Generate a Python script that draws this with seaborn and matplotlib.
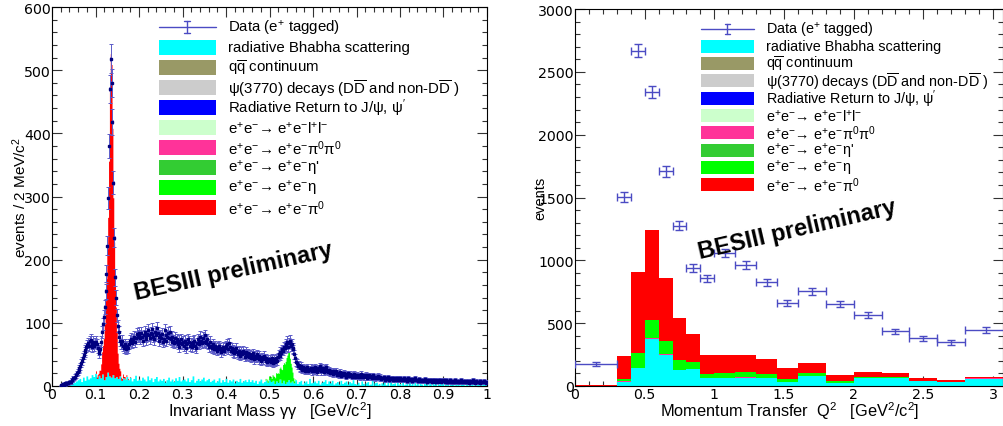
import numpy as np
import pandas as pd
import seaborn as sns
import matplotlib.pyplot as plt
from matplotlib.lines import Line2D
from matplotlib.patches import Rectangle
from matplotlib.ticker import MultipleLocator, FuncFormatter

sns.set_style("ticks")
plt.rcParams['font.family'] = ['Liberation Sans', 'DejaVu Sans']
plt.rcParams['mathtext.default'] = 'regular'
plt.rcParams['text.color'] = 'black'
plt.rcParams['axes.labelcolor'] = 'black'

# ---------------- invariant mass gamma gamma, 2 MeV bins from 0 to 1 GeV ----------------
mass_counts = [
    0, 0, 0, 0, 0, 0, 0, 0, 0, 0, 1, 2, 3, 2, 3, 4, 3, 5, 4, 6, 7, 6, 9, 10, 12,
    13, 15, 17, 20, 22, 25, 28, 31, 36, 40, 45, 49, 54, 57, 61, 65, 68, 63, 71, 73, 66, 62, 70, 64, 68,
    70, 66, 60, 56, 52, 58, 70, 85, 98, 110, 125, 150, 178, 222, 298, 380, 470, 518, 480, 418, 322, 235, 172, 140, 112,
    95, 86, 78, 72, 66, 72, 64, 60, 66, 62, 58, 63, 60, 66, 72, 75, 70, 68, 74, 78, 70, 76, 82, 78, 84,
    80, 76, 84, 78, 72, 80, 86, 78, 74, 82, 88, 80, 76, 84, 90, 82, 78, 74, 86, 80, 92, 84, 78, 72, 80,
    76, 82, 70, 74, 88, 80, 72, 78, 84, 76, 86, 74, 70, 78, 72, 68, 76, 70, 74, 66, 72, 62, 68, 74, 66,
    70, 64, 72, 66, 60, 68, 74, 70, 64, 68, 62, 70, 66, 72, 64, 60, 68, 74, 66, 70, 78, 72, 68, 76, 70,
    80, 72, 68, 74, 66, 62, 70, 64, 60, 66, 62, 58, 64, 60, 56, 62, 58, 64, 60, 54, 58, 62, 56, 60, 64,
    62, 66, 58, 68, 62, 56, 60, 54, 58, 52, 56, 60, 54, 50, 56, 52, 48, 54, 50, 56, 52, 46, 50, 54, 48,
    52, 46, 50, 44, 48, 52, 46, 42, 48, 44, 50, 46, 42, 48, 44, 40, 46, 42, 48, 44, 40, 44, 38, 42, 40,
    42, 38, 44, 40, 36, 42, 38, 44, 40, 46, 50, 48, 54, 52, 58, 56, 62, 60, 66, 64, 70, 62, 68, 72, 64,
    66, 58, 60, 50, 44, 38, 36, 32, 34, 30, 28, 32, 26, 30, 28, 24, 28, 26, 30, 24, 27, 25, 29, 23, 26,
    28, 24, 30, 26, 22, 28, 25, 31, 27, 23, 29, 26, 22, 28, 24, 30, 26, 22, 25, 21, 24, 20, 23, 19, 22,
    20, 23, 18, 21, 17, 22, 19, 16, 20, 18, 21, 17, 19, 15, 18, 20, 16, 19, 17, 15, 18, 16, 19, 15, 17,
    18, 15, 17, 14, 16, 19, 15, 17, 14, 16, 18, 13, 16, 15, 17, 14, 16, 13, 15, 17, 14, 12, 15, 13, 16,
    14, 12, 15, 11, 13, 12, 14, 10, 13, 11, 12, 14, 10, 12, 11, 13, 9, 12, 10, 11, 13, 10, 12, 9, 11,
    12, 10, 11, 9, 12, 10, 11, 8, 10, 12, 9, 11, 10, 8, 11, 9, 10, 12, 9, 10, 8, 11, 9, 10, 8,
    10, 8, 9, 11, 8, 10, 7, 9, 8, 10, 9, 7, 9, 8, 10, 7, 9, 8, 7, 9, 8, 10, 7, 8, 9,
    9, 7, 9, 6, 8, 7, 8, 9, 6, 8, 7, 8, 6, 9, 7, 8, 6, 7, 8, 7, 9, 6, 7, 8, 6,
    7, 8, 6, 7, 5, 8, 6, 7, 9, 6, 7, 5, 8, 6, 7, 6, 8, 5, 7, 6, 7, 8, 6, 5, 7,
]

mass_bhabha = [
    0, 0, 0, 0, 0, 0, 0, 0, 0, 0, 0, 0, 0, 0, 0, 0, 0, 2, 2, 3, 3, 4, 4, 5, 5,
    6, 6, 8, 8, 10, 10, 12, 12, 7, 7, 14, 14, 9, 9, 16, 16, 11, 11, 13, 13, 18, 18, 15, 15, 20,
    20, 12, 12, 17, 17, 13, 13, 19, 19, 10, 10, 15, 15, 22, 22, 16, 16, 14, 14, 18, 18, 13, 13, 15, 15,
    12, 12, 16, 16, 9, 9, 13, 13, 11, 11, 15, 15, 10, 10, 14, 14, 8, 8, 12, 12, 17, 17, 9, 9, 11,
    11, 9, 9, 14, 14, 11, 11, 8, 8, 16, 16, 10, 10, 13, 13, 7, 7, 12, 12, 15, 15, 8, 8, 11, 11,
    9, 9, 12, 12, 6, 6, 10, 10, 14, 14, 8, 8, 11, 11, 7, 7, 13, 13, 9, 9, 15, 15, 8, 8, 10,
    10, 11, 11, 8, 8, 13, 13, 7, 7, 10, 10, 16, 16, 6, 6, 9, 9, 12, 12, 8, 8, 11, 11, 14, 14,
    8, 8, 10, 10, 12, 12, 7, 7, 9, 9, 11, 11, 6, 6, 8, 8, 13, 13, 6, 6, 10, 10, 7, 7, 12,
    12, 6, 6, 10, 10, 8, 8, 11, 11, 5, 5, 9, 9, 7, 7, 12, 12, 6, 6, 8, 8, 10, 10, 7, 7,
    11, 11, 7, 7, 10, 10, 6, 6, 9, 9, 4, 4, 8, 8, 11, 11, 5, 5, 7, 7, 9, 9, 6, 6, 10,
    10, 7, 7, 9, 9, 4, 4, 8, 8, 6, 6, 11, 11, 5, 5, 9, 9, 4, 4, 7, 7, 10, 10, 6, 6,
    8, 8, 5, 5, 10, 10, 4, 4, 7, 7, 9, 9, 3, 3, 6, 6, 8, 8, 4, 4, 12, 12, 5, 5, 6,
    6, 8, 8, 5, 5, 9, 9, 3, 3, 6, 6, 7, 7, 10, 10, 4, 4, 8, 8, 5, 5, 9, 9, 3, 3,
    5, 5, 7, 7, 3, 3, 9, 9, 4, 4, 6, 6, 8, 8, 3, 3, 7, 7, 5, 5, 10, 10, 4, 4, 3,
    3, 6, 6, 2, 2, 8, 8, 4, 4, 1, 5, 5, 7, 7, 2, 3, 3, 9, 9, 1, 5, 5, 6, 6, 2,
    4, 4, 1, 5, 5, 3, 7, 7, 2, 2, 6, 6, 1, 8, 8, 3, 4, 4, 5, 5, 1, 11, 11, 2, 4,
    4, 1, 6, 6, 2, 3, 3, 5, 5, 1, 7, 7, 2, 4, 4, 1, 6, 6, 2, 4, 4, 1, 5, 5, 3,
    3, 1, 5, 5, 2, 4, 4, 1, 6, 6, 3, 1, 9, 9, 2, 4, 4, 1, 3, 3, 5, 5, 2, 4, 4,
    1, 3, 3, 2, 5, 5, 1, 4, 4, 2, 3, 3, 1, 6, 6, 2, 4, 4, 1, 3, 3, 5, 5, 2, 1,
    2, 4, 4, 1, 3, 3, 2, 5, 5, 1, 3, 3, 1, 4, 4, 2, 6, 6, 1, 3, 3, 8, 8, 2, 3,
]

# e+e- -> e+e- pi0 signal, first value is the 0.100-0.102 GeV bin
pi0_first_bin = 50
mass_pi0 = [4, 2, 6, 3, 8, 12, 22, 35, 45, 65, 88, 120, 155, 195, 245, 340, 455, 512, 495, 390,
            280, 215, 160, 110, 72, 40, 24, 12, 8, 5, 3, 6, 2, 4, 0, 3, 0, 2, 0, 1]

# e+e- -> e+e- eta signal, first value is the 0.490-0.492 GeV bin
eta_first_bin = 245
mass_eta = [3, 0, 5, 2, 6, 4, 8, 5, 9, 7, 11, 9, 13, 12, 15, 14, 17, 19, 22, 21,
            25, 28, 31, 35, 38, 42, 45, 43, 38, 30, 22, 14, 8, 3, 1]

# ---------------- momentum transfer Q^2 ----------------
q2_edges = [0, 0.3, 0.4, 0.5, 0.6, 0.7, 0.8, 0.9, 1.0, 1.15, 1.3, 1.45, 1.6, 1.8, 2.0, 2.2, 2.4, 2.6, 2.8, 3.1]
q2_counts = [175, 1505, 2667, 2337, 1708, 1276, 938, 856, 1060, 965, 826, 660, 752, 654, 565, 435, 380, 348, 446]
q2_bhabha = [2, 35, 143, 372, 250, 127, 136, 60, 62, 67, 62, 33, 79, 23, 64, 62, 36, 28, 53]
q2_pipi = [0, 2, 3, 10, 3, 3, 2, 1, 1, 1, 1, 1, 1, 1, 1, 1, 1, 1, 1]
q2_rr = [0, 0, 0, 0, 0, 0, 0, 0, 0, 0, 0, 0, 0, 0, 1, 1, 1, 1, 6]
q2_eta = [1, 19, 114, 144, 108, 77, 56, 34, 38, 41, 32, 22, 21, 13, 8, 8, 4, 4, 1]
q2_pi0 = [5, 183, 644, 713, 498, 337, 220, 152, 148, 140, 120, 85, 79, 53, 37, 29, 19, 14, 11]

# stacking order, bottom -> top (also the legend order)
components = ['bhabha', 'qq', 'psi', 'rr', 'll', 'pipi', 'etap', 'eta', 'pi0']
colors = {'bhabha': '#00FFFF', 'qq': '#999966', 'psi': '#CCCCCC', 'rr': '#0000FF',
          'll': '#CCFFCC', 'pipi': '#FF3399', 'etap': '#33CC33', 'eta': '#00FF00', 'pi0': '#FF0000'}
ee = r'e$^{+}$e$^{-}$→ e$^{+}$e$^{-}$'
legend_labels = {
    'bhabha': 'radiative Bhabha scattering',
    'qq': r'q$\overline{q}$ continuum',
    'psi': r'ψ(3770) decays (D$\overline{D}$ and non-D$\overline{D}$ )',
    'rr': r'Radiative Return to J/ψ, ψ$^{\prime}$',
    'll': ee + r'l$^{+}$l$^{-}$',
    'pipi': ee + r'π$^{0}$π$^{0}$',
    'etap': ee + "η'",
    'eta': ee + 'η',
    'pi0': ee + r'π$^{0}$',
}
data_label = r'Data (e$^{+}$ tagged)'

W, H = 1004, 427
fig = plt.figure(figsize=(W / 100, H / 100), dpi=100)
fig.patch.set_facecolor('white')
ax1 = fig.add_axes([52 / W, 1 - 387 / H, 435 / W, 379 / H])
ax2 = fig.add_axes([575 / W, 1 - 387 / H, 428 / W, 377 / H])


def stacked(ax, edges, parts):
    edges = np.asarray(edges, float)
    centers = (edges[:-1] + edges[1:]) / 2
    frames = []
    for c in components:
        vals = parts.get(c, np.zeros(len(centers)))
        frames.append(pd.DataFrame({'x': centers, 'n': np.asarray(vals, float), 'comp': c}))
    df = pd.concat(frames, ignore_index=True)
    # seaborn puts the first hue level on top of the stack
    sns.histplot(data=df, x='x', weights='n', hue='comp', hue_order=components[::-1],
                 palette=colors, bins=list(edges), multiple='stack', element='step',
                 fill=True, alpha=1, linewidth=0, legend=False, ax=ax)
    return centers


def style_axes(ax, xmaj, xmin, ymaj, ymin):
    ax.xaxis.set_major_locator(MultipleLocator(xmaj))
    ax.xaxis.set_minor_locator(MultipleLocator(xmin))
    ax.yaxis.set_major_locator(MultipleLocator(ymaj))
    ax.yaxis.set_minor_locator(MultipleLocator(ymin))
    fmt = FuncFormatter(lambda v, p: f'{v:g}')
    ax.xaxis.set_major_formatter(fmt)
    ax.yaxis.set_major_formatter(fmt)
    ax.tick_params(which='both', direction='in', top=True, right=True, width=0.8,
                   color='#333333', labelcolor='black')
    ax.tick_params(which='major', length=7)
    ax.tick_params(which='minor', length=3.5)
    ax.tick_params(labelsize=10.2, labelfontfamily='DejaVu Sans', pad=1.0)
    for s in ax.spines.values():
        s.set_linewidth(0.8)
        s.set_color('black')


# ---- left panel ----
mass_edges = np.linspace(0, 1, 501)
pi0_full = np.zeros(500)
pi0_full[pi0_first_bin:pi0_first_bin + len(mass_pi0)] = mass_pi0
eta_full = np.zeros(500)
eta_full[eta_first_bin:eta_first_bin + len(mass_eta)] = mass_eta
m_cent = stacked(ax1, mass_edges, {'bhabha': mass_bhabha, 'pi0': pi0_full, 'eta': eta_full})

md = np.asarray(mass_counts, float)
ok = md > 0
ax1.errorbar(m_cent[ok], md[ok], yerr=np.sqrt(md[ok]), xerr=0.001, fmt='s', ms=1.6,
             mfc='#00007F', mec='#00007F', ecolor='#5C5CC8', elinewidth=0.7,
             capsize=1.3, capthick=0.7, zorder=5)
ax1.set_xlim(0, 1)
ax1.set_ylim(0, 600)
style_axes(ax1, 0.1, 0.02, 100, 20)
ax1.set_xlabel(r'Invariant Mass γγ   [GeV/c$^{2}$]', fontsize=11.8)
ax1.set_ylabel(r'events / 2 MeV/c$^{2}$', fontsize=11)
ax1.xaxis.set_label_coords(0.5, (387 - 417) / 379)
ax1.xaxis.label.set_va('baseline')
ax1.yaxis.set_label_coords(-0.074, 0.5)
ax1.yaxis.label.set_va('center')

# ---- right panel ----
q_cent = stacked(ax2, q2_edges, {'bhabha': q2_bhabha, 'pipi': q2_pipi, 'rr': q2_rr,
                                 'eta': q2_eta, 'pi0': q2_pi0})
qe = np.asarray(q2_edges, float)
qc = np.asarray(q2_counts, float)
ax2.errorbar(q_cent, qc, xerr=np.diff(qe) / 2, yerr=np.sqrt(qc), fmt='none',
             ecolor='#4B4BC3', elinewidth=1.0, capsize=2.8, capthick=1.0, zorder=5)
ax2.set_xlim(0, 3.072)
ax2.set_ylim(0, 3000)
style_axes(ax2, 0.5, 0.1, 500, 100)
ax2.set_xlabel(r'Momentum Transfer  Q$^{2}$   [GeV$^{2}$/c$^{2}$]', fontsize=11.8)
ax2.set_ylabel('events', fontsize=10.5)
ax2.xaxis.set_label_coords(0.502, (387 - 417) / 377)
ax2.xaxis.label.set_va('baseline')
ax2.yaxis.set_label_coords(-0.082, 0.5)
ax2.yaxis.label.set_va('center')


# ---- legends (ROOT style boxes) ----
def fx(x):
    return x / W


def fy(y):
    return 1 - y / H


def draw_key(x0, x1, y_first, step, box_h, text_x, fsize):
    tr = fig.transFigure
    xm = (x0 + x1) / 2
    fig.add_artist(Line2D([fx(x0), fx(x1)], [fy(y_first), fy(y_first)], transform=tr,
                          color='#4B4BC3', lw=1.0))
    fig.add_artist(Line2D([fx(xm), fx(xm)], [fy(y_first - box_h * 0.42), fy(y_first + box_h * 0.42)],
                          transform=tr, color='#4B4BC3', lw=1.0))
    for yy in (y_first - box_h * 0.42, y_first + box_h * 0.42):
        fig.add_artist(Line2D([fx(xm - 3), fx(xm + 3)], [fy(yy), fy(yy)], transform=tr,
                              color='#4B4BC3', lw=1.0))
    fig.text(fx(text_x), fy(y_first), data_label, fontsize=fsize, va='center', ha='left')
    for i, c in enumerate(components):
        y = y_first + step * (i + 1)
        fig.add_artist(Rectangle((fx(x0), fy(y + box_h / 2)), fx(x1 - x0), box_h / H,
                                 transform=tr, facecolor=colors[c], edgecolor='none'))
        fig.text(fx(text_x), fy(y), legend_labels[c], fontsize=fsize, va='center', ha='left')


draw_key(159, 216, 28, 20.1, 15, 228, 10.8)
draw_key(701, 754, 30, 17.3, 13, 766, 10.4)

fig.text(fx(233), fy(272), 'BESIII preliminary', rotation=12.5, fontsize=17, fontweight='bold',
         color='black', ha='center', va='center', rotation_mode='anchor')
fig.text(fx(797), fy(230), 'BESIII preliminary', rotation=13, fontsize=17, fontweight='bold',
         color='black', ha='center', va='center', rotation_mode='anchor')

fig.savefig('out.png', dpi=100, facecolor='white')
